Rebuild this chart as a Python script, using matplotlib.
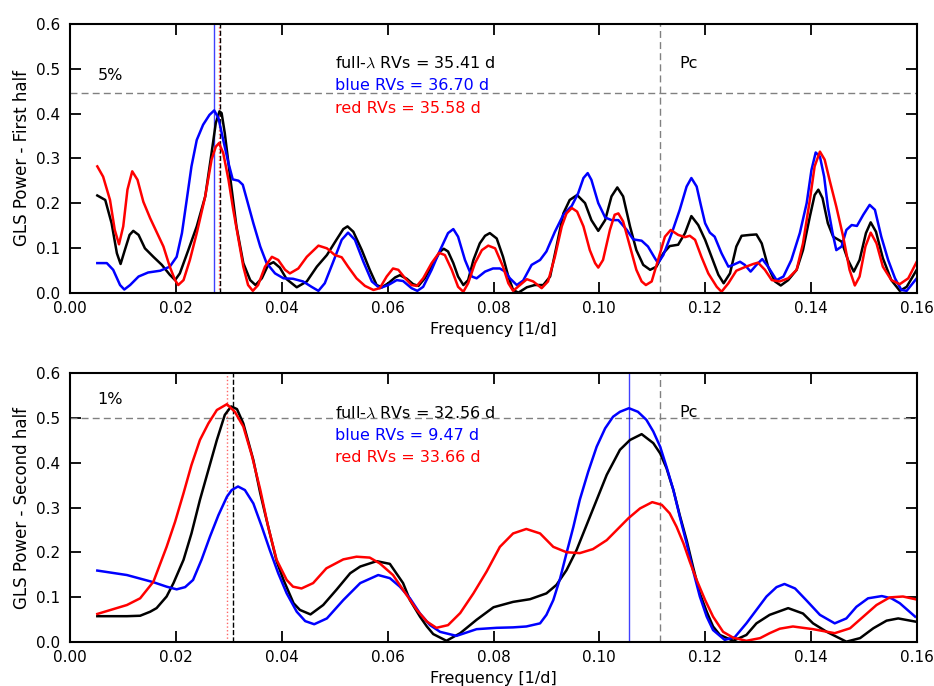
import numpy as np
import matplotlib
matplotlib.use('Agg')
import matplotlib.pyplot as plt

plt.rcParams['font.family'] = ['DejaVu Sans']
plt.rcParams['mathtext.fontset'] = 'cm'
plt.rcParams['font.size'] = 11.5

# best periods [d] of each periodogram, and false alarm levels
periods_first = [35.41, 36.70, 35.58]   # full, blue, red
periods_second = [32.56, 9.47, 33.66]
fap_first = 0.445    # 5%
fap_second = 0.50    # 1%
pc_period = 8.97

# ---- first half ----
f1_full = [0.0051, 0.0066, 0.0078, 0.0088, 0.0095, 0.0103, 0.0112, 0.0119, 0.0129, 0.0141,
           0.0157, 0.0173, 0.0188, 0.0198, 0.0207, 0.0223, 0.0239, 0.0255, 0.0267, 0.0275,
           0.0282, 0.0286, 0.0292, 0.0302, 0.0314, 0.0327, 0.0340, 0.0350, 0.0362, 0.0374,
           0.0384, 0.0396, 0.0409, 0.0428, 0.0447, 0.0466, 0.0485, 0.0503, 0.0516, 0.0524,
           0.0535, 0.0551, 0.0566, 0.0579, 0.0589, 0.0601, 0.0614, 0.0623, 0.0636, 0.0648,
           0.0658, 0.0670, 0.0686, 0.0699, 0.0706, 0.0714, 0.0724, 0.0733, 0.0743, 0.0752,
           0.0762, 0.0774, 0.0784, 0.0793, 0.0806, 0.0818, 0.0828, 0.0837, 0.0847, 0.0863,
           0.0878, 0.0894, 0.0907, 0.0919, 0.0932, 0.0944, 0.0958, 0.0973, 0.0985, 0.0998,
           0.1011, 0.1023, 0.1034, 0.1045, 0.1058, 0.1070, 0.1083, 0.1096, 0.1108, 0.1121,
           0.1133, 0.1149, 0.1162, 0.1174, 0.1187, 0.1200, 0.1209, 0.1225, 0.1235, 0.1247,
           0.1259, 0.1269, 0.1285, 0.1297, 0.1307, 0.1319, 0.1332, 0.1343, 0.1357, 0.1373,
           0.1385, 0.1398, 0.1407, 0.1414, 0.1422, 0.1432, 0.1442, 0.1458, 0.1470, 0.1481,
           0.1492, 0.1504, 0.1513, 0.1523, 0.1536, 0.1552, 0.1568, 0.1581, 0.1600]
p1_full = [0.217, 0.207, 0.155, 0.088, 0.064, 0.095, 0.129, 0.138, 0.129, 0.099,
           0.080, 0.062, 0.040, 0.028, 0.043, 0.095, 0.148, 0.215, 0.312, 0.379,
           0.405, 0.401, 0.356, 0.259, 0.148, 0.066, 0.028, 0.017, 0.032, 0.062,
           0.068, 0.056, 0.030, 0.012, 0.025, 0.058, 0.084, 0.118, 0.142, 0.148,
           0.136, 0.095, 0.051, 0.017, 0.012, 0.021, 0.034, 0.039, 0.031, 0.019,
           0.015, 0.032, 0.066, 0.092, 0.098, 0.092, 0.066, 0.036, 0.017, 0.028,
           0.073, 0.110, 0.127, 0.133, 0.121, 0.080, 0.036, 0.006, 0.000, 0.012,
           0.017, 0.017, 0.036, 0.103, 0.177, 0.207, 0.218, 0.200, 0.162, 0.138,
           0.162, 0.215, 0.235, 0.215, 0.148, 0.095, 0.062, 0.051, 0.058, 0.088,
           0.104, 0.107, 0.133, 0.171, 0.151, 0.118, 0.090, 0.040, 0.021, 0.043,
           0.103, 0.127, 0.129, 0.130, 0.110, 0.058, 0.025, 0.016, 0.028, 0.051,
           0.095, 0.170, 0.218, 0.230, 0.211, 0.155, 0.125, 0.114, 0.073, 0.047,
           0.073, 0.133, 0.157, 0.136, 0.077, 0.028, 0.004, 0.013, 0.051]

f1_blue = [0.0051, 0.0069, 0.0081, 0.0094, 0.0102, 0.0113, 0.0129, 0.0147, 0.0170, 0.0188,
           0.0201, 0.0211, 0.0220, 0.0229, 0.0239, 0.0251, 0.0263, 0.0272, 0.0280, 0.0289,
           0.0299, 0.0307, 0.0318, 0.0326, 0.0333, 0.0346, 0.0359, 0.0371, 0.0387, 0.0403,
           0.0421, 0.0440, 0.0456, 0.0469, 0.0481, 0.0497, 0.0513, 0.0525, 0.0538, 0.0554,
           0.0570, 0.0585, 0.0601, 0.0617, 0.0629, 0.0645, 0.0656, 0.0667, 0.0683, 0.0699,
           0.0714, 0.0724, 0.0733, 0.0746, 0.0759, 0.0768, 0.0784, 0.0799, 0.0812, 0.0822,
           0.0831, 0.0844, 0.0856, 0.0872, 0.0888, 0.0900, 0.0916, 0.0932, 0.0948, 0.0960,
           0.0970, 0.0978, 0.0985, 0.0998, 0.1011, 0.1023, 0.1036, 0.1052, 0.1064, 0.1080,
           0.1092, 0.1105, 0.1111, 0.1121, 0.1137, 0.1152, 0.1165, 0.1174, 0.1184, 0.1192,
           0.1200, 0.1209, 0.1218, 0.1231, 0.1244, 0.1253, 0.1266, 0.1275, 0.1286, 0.1297,
           0.1308, 0.1319, 0.1335, 0.1348, 0.1363, 0.1379, 0.1392, 0.1401, 0.1409, 0.1417,
           0.1425, 0.1432, 0.1441, 0.1448, 0.1458, 0.1467, 0.1477, 0.1487, 0.1499, 0.1511,
           0.1521, 0.1533, 0.1546, 0.1559, 0.1571, 0.1581, 0.1600]
p1_blue = [0.066, 0.066, 0.051, 0.017, 0.007, 0.017, 0.036, 0.045, 0.049, 0.058,
           0.080, 0.133, 0.207, 0.282, 0.341, 0.375, 0.397, 0.407, 0.390, 0.341,
           0.289, 0.253, 0.250, 0.241, 0.211, 0.155, 0.103, 0.066, 0.043, 0.032,
           0.031, 0.025, 0.013, 0.004, 0.021, 0.069, 0.118, 0.134, 0.118, 0.069,
           0.025, 0.010, 0.017, 0.028, 0.026, 0.010, 0.004, 0.013, 0.051, 0.095,
           0.133, 0.142, 0.125, 0.073, 0.036, 0.032, 0.047, 0.054, 0.054, 0.047,
           0.032, 0.017, 0.027, 0.062, 0.073, 0.092, 0.136, 0.174, 0.194, 0.222,
           0.256, 0.267, 0.252, 0.200, 0.168, 0.162, 0.162, 0.140, 0.119, 0.116,
           0.103, 0.077, 0.066, 0.084, 0.133, 0.185, 0.237, 0.256, 0.237, 0.195,
           0.155, 0.134, 0.125, 0.088, 0.058, 0.062, 0.069, 0.062, 0.047, 0.062,
           0.075, 0.058, 0.028, 0.036, 0.073, 0.133, 0.200, 0.274, 0.313, 0.304,
           0.259, 0.192, 0.133, 0.095, 0.103, 0.140, 0.151, 0.149, 0.174, 0.196,
           0.185, 0.125, 0.073, 0.032, 0.006, 0.004, 0.032]

f1_red = [0.0051, 0.0062, 0.0075, 0.0084, 0.0092, 0.0100, 0.0108, 0.0117, 0.0127, 0.0138,
          0.0151, 0.0163, 0.0176, 0.0188, 0.0198, 0.0204, 0.0214, 0.0226, 0.0239, 0.0255,
          0.0267, 0.0275, 0.0281, 0.0289, 0.0299, 0.0308, 0.0318, 0.0327, 0.0336, 0.0345,
          0.0355, 0.0368, 0.0381, 0.0393, 0.0406, 0.0415, 0.0431, 0.0447, 0.0469, 0.0485,
          0.0500, 0.0513, 0.0525, 0.0541, 0.0557, 0.0573, 0.0585, 0.0598, 0.0610, 0.0620,
          0.0633, 0.0645, 0.0655, 0.0667, 0.0683, 0.0697, 0.0708, 0.0721, 0.0733, 0.0743,
          0.0752, 0.0765, 0.0778, 0.0790, 0.0803, 0.0818, 0.0828, 0.0837, 0.0850, 0.0863,
          0.0875, 0.0891, 0.0903, 0.0916, 0.0929, 0.0938, 0.0948, 0.0958, 0.0970, 0.0982,
          0.0992, 0.0998, 0.1007, 0.1020, 0.1029, 0.1036, 0.1045, 0.1058, 0.1070, 0.1080,
          0.1088, 0.1099, 0.1111, 0.1124, 0.1135, 0.1149, 0.1162, 0.1171, 0.1181, 0.1193,
          0.1206, 0.1222, 0.1231, 0.1244, 0.1259, 0.1275, 0.1291, 0.1300, 0.1313, 0.1326,
          0.1341, 0.1357, 0.1373, 0.1385, 0.1398, 0.1407, 0.1417, 0.1426, 0.1436, 0.1448,
          0.1461, 0.1473, 0.1483, 0.1492, 0.1503, 0.1513, 0.1524, 0.1536, 0.1552, 0.1568,
          0.1584, 0.1600]
p1_red = [0.282, 0.259, 0.207, 0.140, 0.108, 0.148, 0.230, 0.271, 0.252, 0.203,
          0.166, 0.136, 0.103, 0.058, 0.028, 0.017, 0.028, 0.073, 0.133, 0.215,
          0.297, 0.326, 0.334, 0.312, 0.252, 0.185, 0.118, 0.058, 0.017, 0.004,
          0.017, 0.058, 0.080, 0.073, 0.051, 0.043, 0.054, 0.080, 0.105, 0.099,
          0.084, 0.079, 0.058, 0.032, 0.015, 0.006, 0.010, 0.036, 0.054, 0.051,
          0.032, 0.017, 0.015, 0.032, 0.066, 0.089, 0.084, 0.051, 0.013, 0.002,
          0.021, 0.066, 0.095, 0.105, 0.099, 0.058, 0.021, 0.004, 0.017, 0.030,
          0.025, 0.010, 0.025, 0.080, 0.148, 0.177, 0.189, 0.181, 0.148, 0.095,
          0.066, 0.056, 0.073, 0.140, 0.174, 0.177, 0.159, 0.103, 0.051, 0.025,
          0.017, 0.025, 0.073, 0.125, 0.140, 0.129, 0.124, 0.127, 0.118, 0.080,
          0.043, 0.013, 0.002, 0.021, 0.049, 0.057, 0.064, 0.067, 0.051, 0.028,
          0.025, 0.032, 0.051, 0.110, 0.207, 0.282, 0.315, 0.297, 0.248, 0.192,
          0.125, 0.051, 0.016, 0.036, 0.103, 0.134, 0.110, 0.058, 0.028, 0.019,
          0.032, 0.069]

# ---- second half ----
f2_full = [0.0051, 0.0107, 0.0132, 0.0151, 0.0163, 0.0182, 0.0195, 0.0214, 0.0229, 0.0245,
           0.0261, 0.0277, 0.0292, 0.0304, 0.0315, 0.0327, 0.0346, 0.0359, 0.0371, 0.0390,
           0.0403, 0.0422, 0.0434, 0.0454, 0.0478, 0.0503, 0.0529, 0.0548, 0.0579, 0.0604,
           0.0629, 0.0642, 0.0661, 0.0674, 0.0686, 0.0711, 0.0737, 0.0768, 0.0800, 0.0837,
           0.0869, 0.0900, 0.0919, 0.0938, 0.0957, 0.0976, 0.0995, 0.1014, 0.1039, 0.1058,
           0.1080, 0.1102, 0.1115, 0.1127, 0.1140, 0.1152, 0.1165, 0.1177, 0.1190, 0.1203,
           0.1215, 0.1228, 0.1253, 0.1278, 0.1297, 0.1322, 0.1357, 0.1385, 0.1404, 0.1430,
           0.1467, 0.1493, 0.1518, 0.1543, 0.1565, 0.1597]
p2_full = [0.057, 0.057, 0.058, 0.067, 0.075, 0.101, 0.131, 0.183, 0.242, 0.317,
           0.384, 0.451, 0.507, 0.526, 0.520, 0.488, 0.406, 0.332, 0.272, 0.180,
           0.138, 0.086, 0.071, 0.061, 0.082, 0.116, 0.153, 0.168, 0.180, 0.174,
           0.131, 0.093, 0.056, 0.034, 0.017, 0.002, 0.019, 0.049, 0.077, 0.089,
           0.095, 0.108, 0.127, 0.160, 0.205, 0.261, 0.317, 0.373, 0.429, 0.451,
           0.464, 0.444, 0.421, 0.388, 0.339, 0.283, 0.227, 0.168, 0.108, 0.067,
           0.034, 0.015, 0.002, 0.015, 0.041, 0.060, 0.075, 0.063, 0.041, 0.022,
           0.000, 0.008, 0.030, 0.047, 0.052, 0.045]

f2_blue = [0.0051, 0.0107, 0.0157, 0.0182, 0.0201, 0.0217, 0.0232, 0.0248, 0.0264, 0.0280,
           0.0296, 0.0305, 0.0317, 0.0330, 0.0346, 0.0362, 0.0377, 0.0393, 0.0409, 0.0428,
           0.0444, 0.0461, 0.0485, 0.0516, 0.0548, 0.0582, 0.0604, 0.0623, 0.0642, 0.0661,
           0.0680, 0.0699, 0.0730, 0.0768, 0.0806, 0.0837, 0.0862, 0.0888, 0.0900, 0.0913,
           0.0926, 0.0938, 0.0951, 0.0963, 0.0979, 0.0995, 0.1011, 0.1026, 0.1039, 0.1056,
           0.1073, 0.1089, 0.1102, 0.1115, 0.1127, 0.1140, 0.1152, 0.1165, 0.1177, 0.1190,
           0.1203, 0.1215, 0.1237, 0.1256, 0.1278, 0.1297, 0.1316, 0.1335, 0.1350, 0.1370,
           0.1391, 0.1417, 0.1445, 0.1467, 0.1486, 0.1508, 0.1534, 0.1552, 0.1568, 0.1597]
p2_blue = [0.159, 0.149, 0.133, 0.123, 0.117, 0.122, 0.138, 0.183, 0.235, 0.283,
           0.324, 0.339, 0.347, 0.339, 0.309, 0.257, 0.205, 0.153, 0.108, 0.067,
           0.046, 0.039, 0.052, 0.093, 0.131, 0.149, 0.142, 0.123, 0.097, 0.063,
           0.037, 0.022, 0.013, 0.028, 0.031, 0.032, 0.034, 0.041, 0.060, 0.093,
           0.142, 0.198, 0.257, 0.317, 0.380, 0.436, 0.477, 0.503, 0.514, 0.522,
           0.514, 0.496, 0.470, 0.436, 0.391, 0.339, 0.280, 0.220, 0.160, 0.101,
           0.056, 0.026, 0.004, 0.010, 0.041, 0.071, 0.101, 0.122, 0.129, 0.119,
           0.093, 0.060, 0.041, 0.052, 0.078, 0.097, 0.102, 0.097, 0.086, 0.056]

f2_red = [0.0051, 0.0107, 0.0132, 0.0157, 0.0182, 0.0198, 0.0214, 0.0229, 0.0245, 0.0261,
          0.0277, 0.0296, 0.0311, 0.0327, 0.0343, 0.0359, 0.0374, 0.0390, 0.0409, 0.0421,
          0.0437, 0.0459, 0.0484, 0.0516, 0.0541, 0.0566, 0.0585, 0.0610, 0.0629, 0.0655,
          0.0674, 0.0692, 0.0714, 0.0737, 0.0762, 0.0787, 0.0812, 0.0837, 0.0862, 0.0888,
          0.0913, 0.0938, 0.0963, 0.0988, 0.1014, 0.1055, 0.1077, 0.1100, 0.1118, 0.1133,
          0.1146, 0.1159, 0.1171, 0.1184, 0.1200, 0.1215, 0.1234, 0.1253, 0.1278, 0.1304,
          0.1322, 0.1341, 0.1366, 0.1404, 0.1445, 0.1474, 0.1499, 0.1524, 0.1549, 0.1574,
          0.1597]
p2_red = [0.062, 0.082, 0.097, 0.134, 0.212, 0.268, 0.332, 0.395, 0.451, 0.488,
          0.518, 0.531, 0.514, 0.481, 0.417, 0.340, 0.257, 0.183, 0.138, 0.123,
          0.119, 0.131, 0.164, 0.184, 0.190, 0.188, 0.175, 0.149, 0.116, 0.071,
          0.045, 0.031, 0.037, 0.064, 0.108, 0.157, 0.212, 0.242, 0.252, 0.242,
          0.212, 0.200, 0.198, 0.207, 0.227, 0.276, 0.298, 0.312, 0.306, 0.287,
          0.257, 0.220, 0.179, 0.138, 0.093, 0.056, 0.022, 0.009, 0.002, 0.008,
          0.019, 0.029, 0.034, 0.028, 0.019, 0.030, 0.056, 0.082, 0.099, 0.101,
          0.095]


def style_axes(ax):
    for sp in ax.spines.values():
        sp.set_linewidth(1.5)
    ax.tick_params(direction='in', top=True, right=True, length=8, width=1.3,
                   labelsize=11)
    ax.tick_params(axis='x', pad=6)
    ax.tick_params(axis='y', pad=7)
    ax.set_xlim(0.0, 0.16)
    ax.set_ylim(0.0, 0.6)
    ax.set_xticks(np.arange(0.0, 0.161, 0.02))
    ax.set_xticklabels(['%.2f' % t for t in np.arange(0.0, 0.161, 0.02)])
    ax.set_yticks(np.arange(0.0, 0.61, 0.1))
    ax.set_yticklabels(['%.1f' % t for t in np.arange(0.0, 0.61, 0.1)])
    ax.set_xlabel('Frequency [1/d]', fontsize=11.5)


def draw_panel(ax, curves, periods, fap, fap_label, fap_y, ylabel):
    (f_full, p_full), (f_blue, p_blue), (f_red, p_red) = curves
    p_full_d, p_blue_d, p_red_d = periods
    ax.axhline(fap, color='gray', ls='--', lw=1, dashes=(5, 3))
    ax.axvline(1.0 / pc_period, color='gray', ls='--', lw=1, dashes=(5, 3))
    ax.axvline(1.0 / p_blue_d, color='b', lw=1, alpha=0.75)
    ax.axvline(1.0 / p_full_d, color='k', ls='--', lw=1)
    ax.axvline(1.0 / p_red_d, color='r', ls=':', lw=1, alpha=0.6)
    ax.plot(f_full, p_full, color='k', lw=1.8)
    ax.plot(f_blue, p_blue, color='b', lw=1.8)
    ax.plot(f_red, p_red, color='r', lw=1.8)
    ax.text(0.0051, fap_y, fap_label, va='center')
    ax.text(0.0500, 0.512, r'full-$\lambda$ RVs = %.2f d' % p_full_d, color='k', va='center')
    ax.text(0.0500, 0.462, 'blue RVs = %.2f d' % p_blue_d, color='b', va='center')
    ax.text(0.0500, 0.412, 'red RVs = %.2f d' % p_red_d, color='r', va='center')
    ax.text(0.1151, 0.512, 'Pc', va='center')
    ax.set_ylabel(ylabel, fontsize=12)
    style_axes(ax)


fig = plt.figure(figsize=(9.34, 6.86), dpi=100)
ax1 = fig.add_axes([0.0753, 0.5734, 0.9062, 0.3916])
ax2 = fig.add_axes([0.0753, 0.0646, 0.9062, 0.3912])

draw_panel(ax1, [(f1_full, p1_full), (f1_blue, p1_blue), (f1_red, p1_red)],
           periods_first, fap_first, '5%', 0.486, 'GLS Power - First half')
draw_panel(ax2, [(f2_full, p2_full), (f2_blue, p2_blue), (f2_red, p2_red)],
           periods_second, fap_second, '1%', 0.542, 'GLS Power - Second half')

fig.savefig('out.png', dpi=100)
